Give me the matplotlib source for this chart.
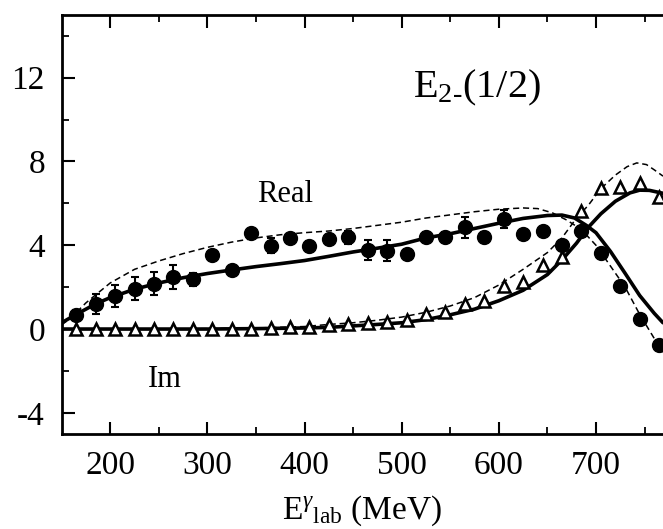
import matplotlib
matplotlib.use("Agg")
import matplotlib.pyplot as plt

# ---- data ----
energy = [165, 185, 205, 225, 245, 265, 285, 305, 325, 345, 365, 385, 405, 425, 445,
          465, 485, 505, 525, 545, 565, 585, 605, 625, 645, 665, 685, 705, 725, 745, 765]
real_pts = [0.67, 1.18, 1.56, 1.92, 2.17, 2.5, 2.37, 3.53, 2.82, 4.57, 3.98, 4.33, 3.98, 4.3, 4.38,
            3.77, 3.74, 3.58, 4.41, 4.41, 4.86, 4.41, 5.24, 4.54, 4.7, 4.0, 4.7, 3.62, 2.04, 0.5, -0.75]
real_err = [0.25, 0.48, 0.53, 0.55, 0.55, 0.58, 0.3, 0.0, 0.0, 0.0, 0.35, 0.2, 0.2, 0.2, 0.3,
            0.48, 0.5, 0.2, 0.2, 0.2, 0.5, 0.2, 0.42, 0.0, 0.0, 0.0, 0.0, 0.0, 0.0, 0.0, 0.0]
im_pts = [0.0, 0.0, 0.0, 0.0, 0.0, 0.0, 0.0, 0.0, 0.0, 0.02, 0.05, 0.08, 0.12, 0.18, 0.24,
          0.28, 0.33, 0.41, 0.72, 0.83, 1.19, 1.35, 2.05, 2.26, 3.06, 3.45, 5.65, 6.72, 6.8, 6.99, 6.32]

real_solid_x = [150, 165, 185, 200, 225, 250, 275, 300, 325, 350, 375, 400, 425, 450, 475, 500,
                525, 550, 575, 600, 625, 650, 665, 678, 690, 700, 715, 730, 745, 760, 769]
real_solid_y = [0.3, 0.7, 1.2, 1.5, 1.9, 2.2, 2.45, 2.65, 2.82, 2.98, 3.12, 3.27, 3.47, 3.68, 3.86, 4.05,
                4.35, 4.55, 4.8, 5.05, 5.28, 5.42, 5.44, 5.3, 4.95, 4.6, 3.7, 2.66, 1.6, 0.75, 0.3]

real_dash_x = [150, 160, 175, 200, 225, 250, 275, 300, 325, 350, 375, 400, 425, 450, 475, 500,
               525, 550, 575, 600, 625, 640, 655, 670, 685, 700, 715, 730, 745, 760, 769]
real_dash_y = [0.2, 0.55, 1.25, 2.2, 2.85, 3.25, 3.6, 3.9, 4.15, 4.35, 4.5, 4.6, 4.68, 4.8, 4.95, 5.1,
               5.3, 5.45, 5.6, 5.72, 5.78, 5.75, 5.55, 5.2, 4.75, 4.0, 3.0, 2.0, 0.7, -0.45, -1.1]

im_solid_x = [150, 200, 250, 300, 350, 400, 425, 450, 475, 500, 525, 550, 575, 600, 625, 650,
              665, 680, 692, 705, 720, 735, 745, 755, 769]
im_solid_y = [0.0, 0.0, 0.0, 0.0, 0.02, 0.05, 0.08, 0.15, 0.22, 0.3, 0.45, 0.68, 0.95, 1.35, 1.85, 2.6,
              3.3, 4.1, 4.85, 5.5, 6.1, 6.5, 6.63, 6.62, 6.48]

im_dash_x = [150, 250, 300, 350, 400, 425, 450, 475, 500, 525, 550, 575, 600, 625, 650, 665,
             680, 692, 705, 720, 732, 742, 752, 760, 769]
im_dash_y = [0.0, 0.0, 0.02, 0.05, 0.12, 0.22, 0.3, 0.42, 0.57, 0.8, 1.1, 1.5, 2.1, 2.85, 3.65, 4.35,
             5.3, 5.9, 6.7, 7.35, 7.75, 7.93, 7.85, 7.6, 7.3]

x_ticks = [200, 300, 400, 500, 600, 700]
y_ticks = [-4, 0, 4, 8, 12]

# ---- styling ----
plt.rcParams['font.family'] = ['Liberation Serif', 'DejaVu Serif']
plt.rcParams['mathtext.fontset'] = 'custom'
plt.rcParams['mathtext.rm'] = 'Liberation Serif'
plt.rcParams['mathtext.it'] = 'Liberation Serif:italic'
plt.rcParams['axes.unicode_minus'] = False

fig = plt.figure(figsize=(6.63, 5.29), dpi=100)
ax = fig.add_axes([0.093, 0.18, 0.907, 0.792])

ax.plot(real_solid_x, real_solid_y, color='black', lw=2.6, solid_capstyle='round', zorder=2)
ax.plot(im_solid_x, im_solid_y, color='black', lw=2.6, solid_capstyle='round', zorder=2)
ax.plot(real_dash_x, real_dash_y, color='black', lw=1.1, dashes=(4, 2.5), zorder=2)
ax.plot(im_dash_x, im_dash_y, color='black', lw=1.1, dashes=(4, 2.5), zorder=2)

ax.plot(energy, im_pts, linestyle='none', marker='^', markersize=8.5, markerfacecolor='white',
        markeredgecolor='black', markeredgewidth=1.8, zorder=4)
ax.errorbar(energy, real_pts, yerr=real_err, fmt='o', color='black', markersize=10,
            elinewidth=1.5, capsize=3, capthick=1.5, zorder=5)

ax.set_xlim(150, 769)
ax.set_ylim(-5, 15)
ax.set_xticks(x_ticks)
ax.set_yticks(y_ticks)
ax.set_xticks(range(250, 770, 100), minor=True)
ax.set_yticks([-2, 2, 6, 10, 14], minor=True)
ax.tick_params(axis='both', which='major', direction='in', length=9, width=1.5,
               labelsize=24, top=True, right=False)
ax.tick_params(axis='both', which='minor', direction='in', length=5, width=1.3,
               top=True, right=False)
ax.tick_params(axis='y', pad=12)
ax.tick_params(axis='x', pad=12)
for side in ['left', 'bottom', 'top']:
    ax.spines[side].set_linewidth(2)
ax.spines['right'].set_visible(False)

ax.set_xlabel(r'E$^{\gamma}$$_{\rm lab}$ (MeV)', fontsize=24, labelpad=9)

ax.text(0.585, 0.826, r'E$_{\rm 2\text{-}}$(1/2)', transform=ax.transAxes, fontsize=29,
        ha='left', va='center')
ax.text(351, 6.4, 'Real', fontsize=22, ha='left', va='center')
ax.text(239, -2.43, 'Im', fontsize=22, ha='left', va='center')

fig.savefig('out.png', dpi=100)
